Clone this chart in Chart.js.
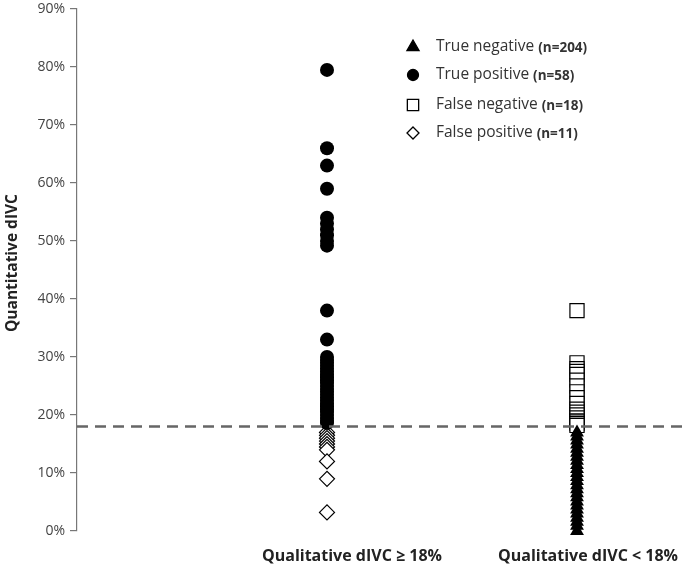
<!DOCTYPE html>
<html>
<head>
<meta charset="utf-8">
<script src="https://cdn.jsdelivr.net/npm/chart.js@4"></script>
<style>
  html, body { margin: 0; padding: 0; background: #fff; }
  #wrap { width: 685px; height: 574px; position: relative; }
</style>
</head>
<body>
<div id="wrap"><canvas id="divc-chart" width="685" height="574"></canvas></div>
<script>
// categories on the x axis (positions 1 and 2 on a linear scale)
const categories = ['Qualitative dIVC \u2265 18%', 'Qualitative dIVC < 18%'];
const yTicks = [0, 10, 20, 30, 40, 50, 60, 70, 80, 90];
const cutoff = 18;

// quantitative dIVC (%)
const truePositive = [79.5, 66, 63, 59, 54, 53, 52, 51, 50, 49.2, 38, 33,
  30, 29.5, 29, 28.5, 28, 27.5, 27, 26.5, 26, 25.5, 25, 24.5, 24, 23.5, 23,
  22.5, 22, 21.5, 21, 20.5, 20, 19.5, 19, 18.6];
const falsePositive = [17, 16.5, 16, 15.5, 15, 14.5, 14, 12, 9, 3.2];
const falseNegative = [38, 29, 28, 27.5, 27, 26, 25, 24, 23, 22, 21, 20.5,
  20, 19.5, 19, 18.8, 18.5, 18.2];
const trueNegative = [17, 16.3, 15.6, 14.9, 14.2, 13.5, 12.8, 12.1, 11.4,
  10.7, 10, 9.3, 8.6, 7.9, 7.2, 6.5, 5.8, 5.1, 4.4, 3.7, 3, 2.3, 1.6, 0.9, 0];

const legendLabels = [
  ['True negative', '(n=204)'],
  ['True positive', '(n=58)'],
  ['False negative', '(n=18)'],
  ['False positive', '(n=11)'],
];

function atCategory(values, idx) {
  return values.map(v => ({ x: idx + 1, y: v }));
}

function marker(c, style, r, x, y, fill) {
  c.beginPath();
  if (style === 'circle') {
    c.arc(x, y, r, 0, Math.PI * 2);
  } else if (style === 'triangle') {
    c.moveTo(x, y - r);
    c.lineTo(x + r * 0.866, y + r * 0.5);
    c.lineTo(x - r * 0.866, y + r * 0.5);
  } else if (style === 'rect') {
    const s = r * Math.SQRT1_2;
    c.rect(x - s, y - s, 2 * s, 2 * s);
  } else {
    c.moveTo(x, y - r);
    c.lineTo(x + r, y);
    c.lineTo(x, y + r);
    c.lineTo(x - r, y);
  }
  c.closePath();
  c.fillStyle = fill;
  c.fill();
  c.strokeStyle = '#000';
  c.lineWidth = 1.3;
  c.stroke();
}

const ctx = document.getElementById('divc-chart').getContext('2d');

// y axis title and legend drawn on the canvas
const extras = {
  id: 'extras',
  afterDraw(chart) {
    const c = chart.ctx;
    c.save();
    c.fillStyle = '#222';
    c.font = 'bold 15.5px "Open Sans"';
    c.translate(13, 263);
    c.rotate(-Math.PI / 2);
    c.textAlign = 'center';
    c.textBaseline = 'middle';
    c.fillText('Quantitative dIVC', 0, 0);
    c.restore();

    const rows = [47, 75, 105, 133];
    const order = [2, 0, 3, 1];
    rows.forEach((y, i) => {
      const ds = chart.data.datasets[order[i]];
      c.save();
      marker(c, ds.pointStyle, ds.legendRadius, 413, y, ds.pointBackgroundColor);
      c.fillStyle = '#333';
      c.textBaseline = 'middle';
      c.font = '15.5px "Open Sans"';
      c.fillText(legendLabels[i][0], 436, y);
      const w = c.measureText(legendLabels[i][0] + ' ').width;
      c.font = 'bold 13.5px "Open Sans"';
      c.fillText(legendLabels[i][1], 436 + w, y + 1);
      c.restore();
    });
  }
};

new Chart(ctx, {
  type: 'scatter',
  data: {
    datasets: [
      {
        label: 'True positive',
        data: atCategory(truePositive, 0),
        pointStyle: 'circle',
        pointRadius: 7,
        legendRadius: 5.5,
        pointBackgroundColor: '#000',
        pointBorderColor: '#000',
        pointBorderWidth: 0,
        clip: false,
      },
      {
        label: 'False positive',
        data: atCategory(falsePositive, 0),
        pointStyle: 'rectRot',
        pointRadius: 7.5,
        legendRadius: 6,
        pointBackgroundColor: '#fff',
        pointBorderColor: '#000',
        pointBorderWidth: 1.2,
        clip: false,
      },
      {
        label: 'True negative',
        data: atCategory(trueNegative, 1),
        pointStyle: 'triangle',
        pointRadius: 8,
        legendRadius: 7,
        pointBackgroundColor: '#000',
        pointBorderColor: '#000',
        pointBorderWidth: 0,
        clip: false,
      },
      {
        label: 'False negative',
        data: atCategory(falseNegative, 1),
        pointStyle: 'rect',
        pointRadius: 10,
        legendRadius: 8,
        pointBackgroundColor: '#fff',
        pointBorderColor: '#000',
        pointBorderWidth: 1.2,
        clip: false,
      },
      {
        label: 'cutoff',
        type: 'line',
        data: [{ x: 0, y: cutoff }, { x: 2.432, y: cutoff }],
        borderColor: '#666',
        borderWidth: 2.5,
        borderDash: [11, 7],
        pointRadius: 0,
        order: -1,
      },
    ],
  },
  options: {
    responsive: false,
    animation: false,
    devicePixelRatio: 1,
    layout: { padding: 0, autoPadding: false },
    plugins: {
      legend: { display: false },
      tooltip: { enabled: false },
    },
    scales: {
      x: {
        type: 'linear',
        min: 0,
        max: 2.432,
        afterBuildTicks(scale) {
          scale.ticks = [{ value: 1.1 }, { value: 2.044 }];
        },
        afterFit(scale) {
          scale.height = 43;
          scale.paddingLeft = 0;
          scale.paddingRight = 0;
        },
        grid: { display: false },
        border: { display: false },
        ticks: {
          autoSkip: false,
          maxRotation: 0,
          padding: 8,
          color: '#222',
          font: { family: 'Open Sans', size: 16, weight: 'bold' },
          callback: (v) => (v < 1.5 ? categories[0] : categories[1]),
        },
      },
      y: {
        min: 0,
        max: 90,
        afterBuildTicks(scale) {
          scale.ticks = yTicks.map(v => ({ value: v }));
        },
        afterFit(scale) {
          scale.width = 77;
          scale.paddingTop = 9;
          scale.paddingBottom = 0;
        },
        grid: { drawOnChartArea: false, tickLength: 7, color: '#777', lineWidth: 1.2 },
        border: { color: '#777', width: 1.2 },
        ticks: {
          autoSkip: false,
          color: '#444',
          padding: 5,
          font: { family: 'Open Sans', size: 14 },
          callback: (v) => v + '%',
        },
      },
    },
  },
  plugins: [extras],
});
</script>
</body>
</html>
